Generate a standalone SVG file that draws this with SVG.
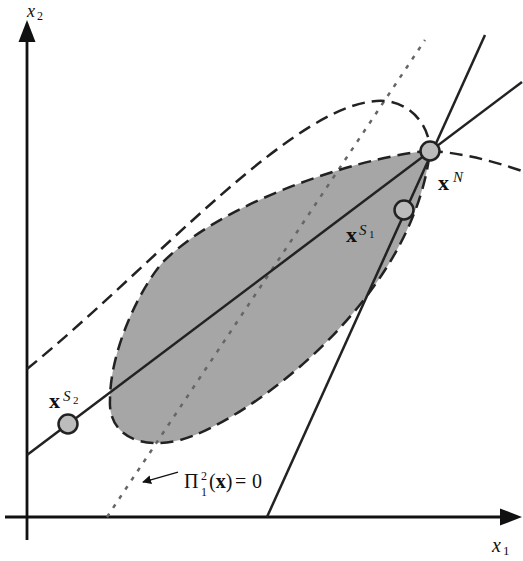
<svg xmlns="http://www.w3.org/2000/svg" width="523" height="561" viewBox="0 0 523 561">
<defs>
<style>
.ax{stroke:#111;stroke-width:2.8;fill:none}
.ln{stroke:#222;stroke-width:2.5;fill:none}
.dash{stroke:#222;stroke-width:2.5;fill:none;stroke-dasharray:13 7}
.dot{stroke:#666;stroke-width:2.5;fill:none;stroke-dasharray:4 7}
.nd{fill:#bcbcbc;stroke:#222;stroke-width:2.5}
text{font-family:'Liberation Serif','Times New Roman',serif;fill:#111}
.b{font-weight:bold}
.i{font-style:italic}
</style>
<marker id="ah" viewBox="0 0 10 10" refX="9" refY="5" markerWidth="9" markerHeight="9" orient="auto" markerUnits="userSpaceOnUse">
<path d="M0,0 L10,5 L0,10 z" fill="#111"/>
</marker>
</defs>
<rect width="523" height="561" fill="#fff"/>
<g id="region">
<path d="M430,151 C380,153 230,195 163,262 C140,288 110,350 110,400 C108,435 140,450 180,440 C240,425 412,305 430,151 Z" fill="#a6a6a6" stroke="none"/>
</g>
<g id="axes">
<line class="ax" x1="27" y1="540" x2="27" y2="38"/>
<path d="M27,20 L35.5,42 L18.5,42 Z" fill="#111"/>
<line class="ax" x1="5" y1="517" x2="504" y2="517"/>
<path d="M522,517 L500,508.5 L500,525.5 Z" fill="#111"/>
</g>
<g id="connectors">
<line class="dot" x1="107" y1="517" x2="425" y2="40"/>
<line class="ln" x1="27" y1="455" x2="522" y2="82"/>
<line class="ln" x1="267" y1="517" x2="485" y2="35"/>
<path class="dash" d="M430,151 C380,153 230,195 163,262 C140,288 110,350 110,400 C108,435 140,450 180,440 C240,425 412,305 430,151"/>
<path class="dash" d="M27,369 C150,270 300,95 385,101 C410,103 430,125 430,151"/>
<path class="dash" d="M430,151 Q470,153 522,171"/>
<line x1="178" y1="472" x2="143" y2="482" stroke="#111" stroke-width="1.3" marker-end="url(#ah)"/>
</g>
<g id="xN">
<circle class="nd" cx="430" cy="151" r="9.5"/>
<text class="b" x="438" y="190" font-size="22">x</text>
<text class="i" x="453" y="182" font-size="15">N</text>
</g>
<g id="xS1">
<circle class="nd" cx="404" cy="210" r="9.5"/>
<text class="b" x="346" y="242" font-size="22">x</text>
<text class="i" x="359" y="235" font-size="15">S</text>
<text x="369" y="238" font-size="11">1</text>
</g>
<g id="xS2">
<circle class="nd" cx="68" cy="424" r="9.5"/>
<text class="b" x="49" y="408" font-size="22">x</text>
<text class="i" x="63" y="401" font-size="15">S</text>
<text x="73" y="404" font-size="11">2</text>
</g>
<g id="labels">
<text class="i" x="27" y="17" font-size="18">x</text>
<text x="37" y="20" font-size="12">2</text>
<text class="i" x="492" y="552" font-size="20">x</text>
<text x="503" y="555" font-size="13">1</text>
<text x="184" y="488" font-size="20">Π</text>
<text x="201" y="480" font-size="12">2</text>
<text x="201" y="496" font-size="12">1</text>
<text x="209" y="488" font-size="20">(<tspan class="b">x</tspan>)</text>
<text x="235" y="488" font-size="20">=</text>
<text x="252" y="488" font-size="20">0</text>
</g>
</svg>
